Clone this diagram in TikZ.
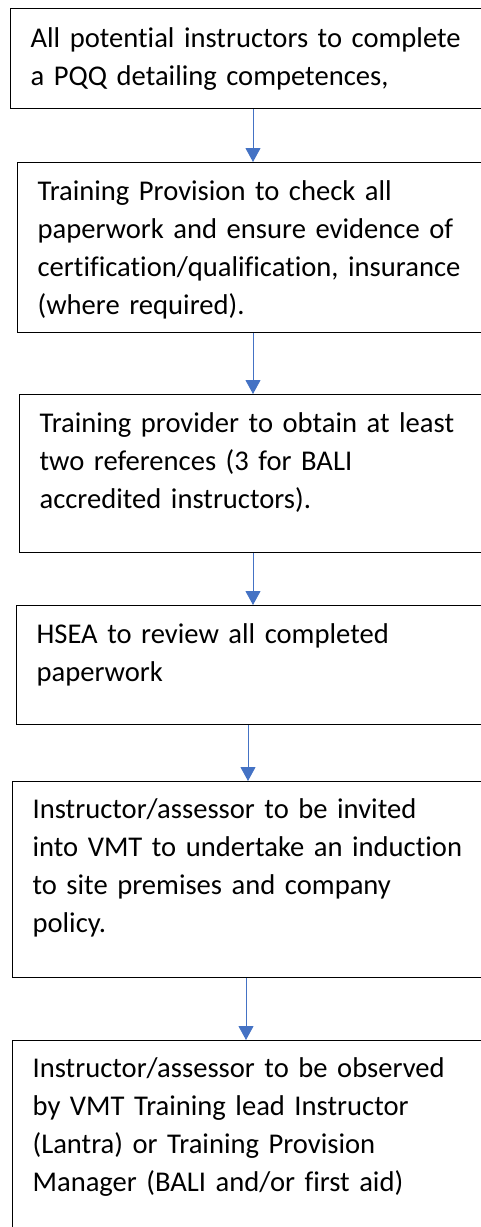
\documentclass[tikz,border=0pt]{standalone}
\usepackage{fontspec}
\setmainfont[Ligatures=NoCommon]{Carlito}
\usetikzlibrary{arrows.meta}
\definecolor{flowblue}{RGB}{68,114,196}

\begin{document}
\begin{tikzpicture}[x=1pt,y=-1pt,
  box/.style={draw=black,line width=1.2pt,anchor=north west,text width=470pt,align=left,
    inner xsep=20pt,inner ysep=0pt,font=\fontsize{28.6}{38}\selectfont},
  flow/.style={flowblue,line width=0.9pt,-{Triangle[width=15pt,length=14pt]}}]
\useasboundingbox (0,0) rectangle (481,1227);
\clip (0,0) rectangle (481,1227);

\node[box,text height=39pt,text depth=61pt] (pqq) at (10,8)
  {All potential instructors to complete\\a PQQ detailing competences,};
\node[box,text height=38pt,text depth=132pt] (check) at (17,162)
  {Training Provision to check all\\paperwork and ensure evidence of\\certification/qualification, insurance\\(where required).};
\node[box,text height=38pt,text depth=120pt] (refs) at (19,394)
  {Training provider to obtain at least\\two references (3 for BALI\\accredited instructors).};
\node[box,text height=38pt,text depth=81pt] (hsea) at (16,605)
  {HSEA to review all completed\\paperwork};
\node[box,text height=37pt,text depth=159pt] (induct) at (12,781)
  {Instructor/assessor to be invited\\into VMT to undertake an induction\\to site premises and company\\policy.};
\node[box,text height=37pt,text depth=220pt] (observe) at (12,1040)
  {Instructor/assessor to be observed\\by VMT Training lead Instructor\\(Lantra) or Training Provision\\Manager (BALI and/or first aid)};

\foreach \a/\b/\x in {pqq/check/253,check/refs/253,refs/hsea/253,hsea/induct/248,induct/observe/246}
  \draw[flow] (\a.south -| \x,0) -- (\b.north -| \x,0);
\end{tikzpicture}
\end{document}
